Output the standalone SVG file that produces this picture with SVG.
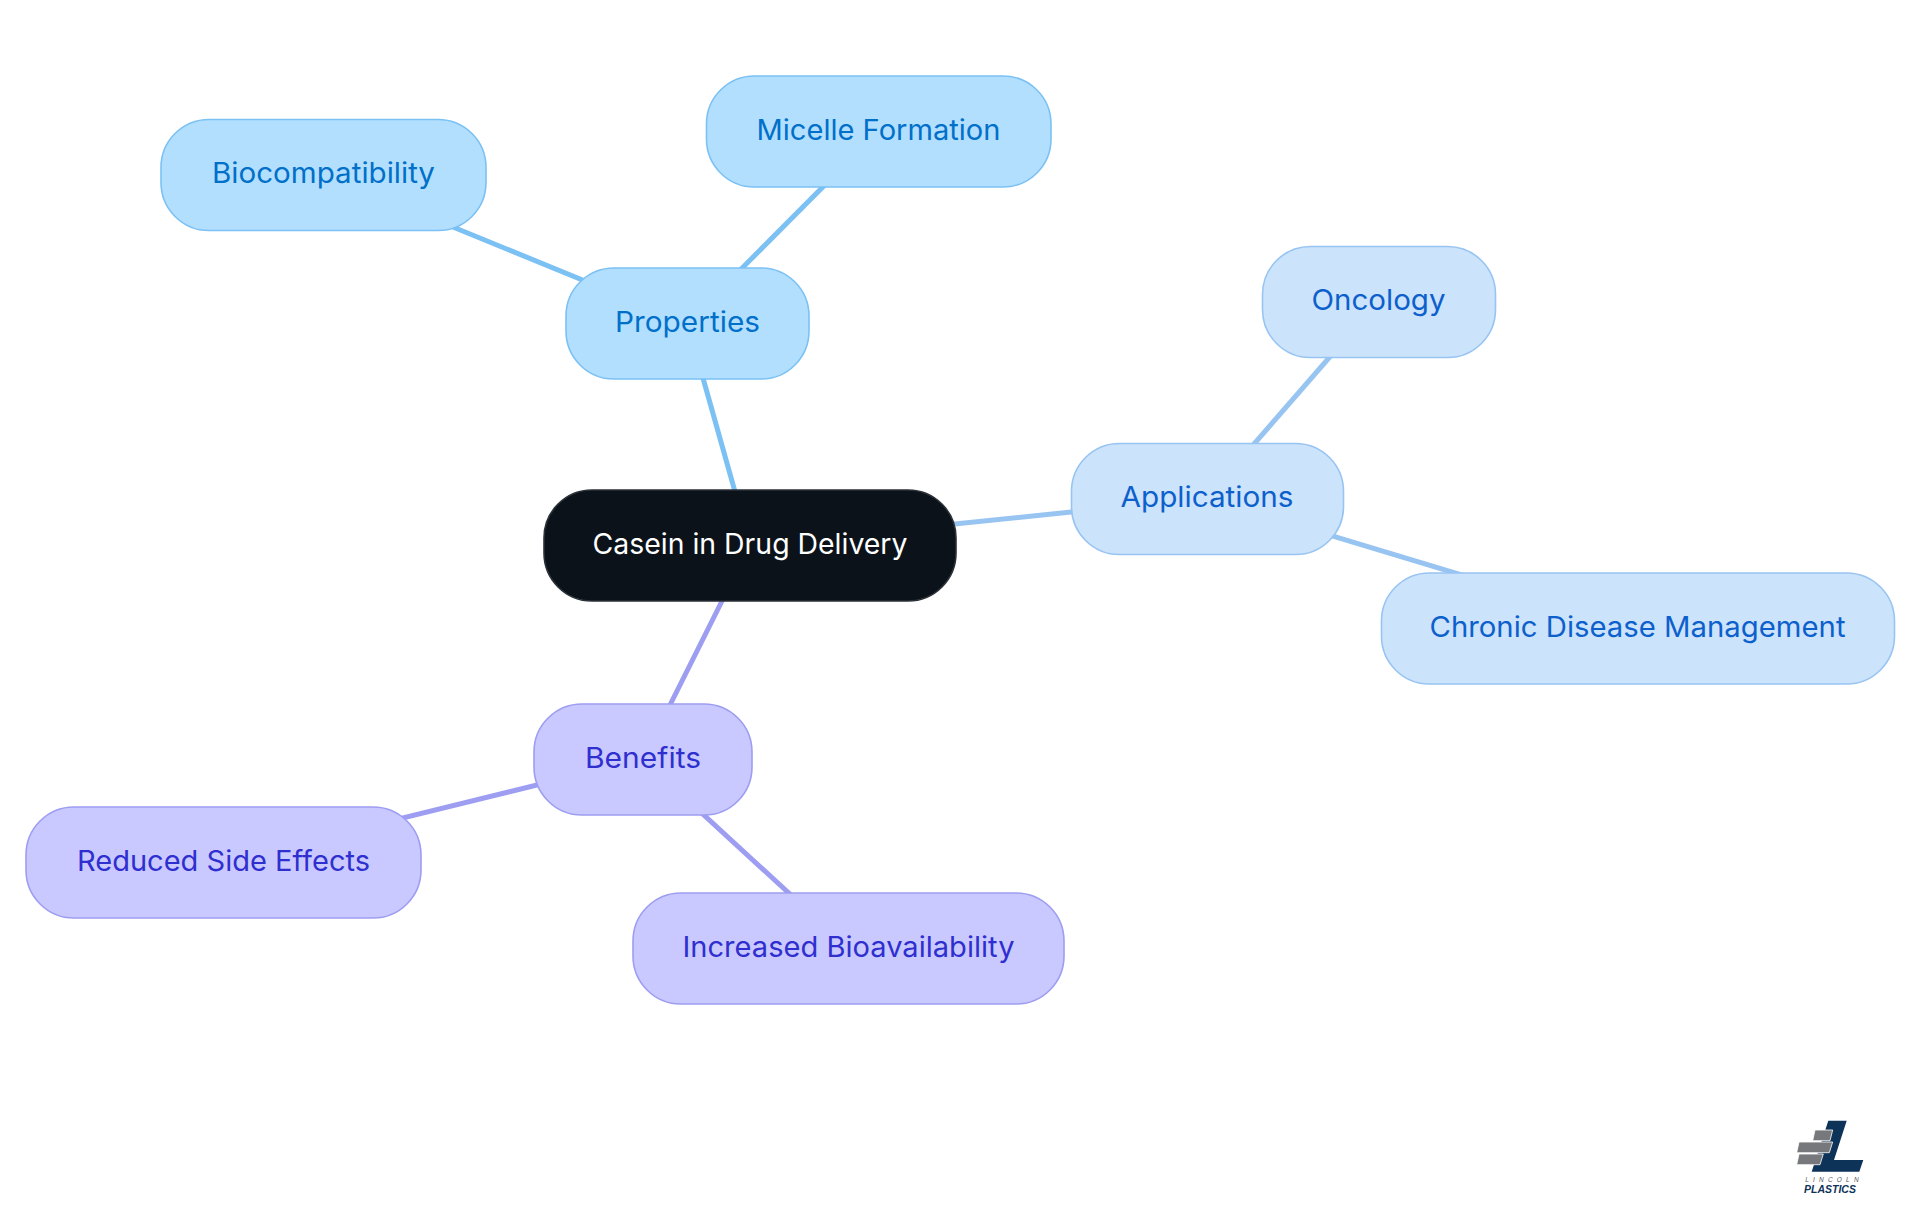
<svg xmlns="http://www.w3.org/2000/svg" width="1920" height="1215" viewBox="0 0 1920 1215">
<style>
.n rect{stroke-width:1.6}
.n text{font-family:"Inter","Noto Sans",sans-serif;font-size:28.5px;text-anchor:middle;dominant-baseline:central}
.c0 rect{fill:#0b1219;stroke:#2b3138}.c0 text{fill:#fff}
.c1 rect{fill:#b3dfff;stroke:#7bc1f3}.c1 text{fill:#0070c9}
.c2 rect{fill:#cce3fc;stroke:#98c4f2}.c2 text{fill:#0c60cc}
.c3 rect{fill:#c9c9ff;stroke:#9d9df2}.c3 text{fill:#2f2fd0}
#connectors line{stroke-width:5;fill:none}
.e1{stroke:#7bc1f3}.e2{stroke:#98c4f2}.e3{stroke:#9d9df2}
</style>
<rect width="1920" height="1215" fill="#fff"/>
<g id="connectors">
<line class="e1" x1="750" y1="545" x2="687.5" y2="323"/>
<line class="e1" x1="687.5" y1="323" x2="878.5" y2="131"/>
<line class="e1" x1="687.5" y1="323" x2="323.5" y2="174"/>
<line class="e2" x1="750" y1="545" x2="1207" y2="498"/>
<line class="e2" x1="1207" y1="498" x2="1378.5" y2="301"/>
<line class="e2" x1="1207" y1="498" x2="1637.5" y2="628"/>
<line class="e3" x1="750" y1="545" x2="643" y2="759"/>
<line class="e3" x1="643" y1="759" x2="223.5" y2="862"/>
<line class="e3" x1="643" y1="759" x2="848.5" y2="948"/>
</g>
<g id="node-root" class="n c0"><rect x="544" y="490" width="412" height="111" rx="48"/><text x="750" y="543" textLength="315" lengthAdjust="spacingAndGlyphs">Casein in Drug Delivery</text></g>
<g id="node-properties" class="n c1"><rect x="566" y="268" width="243" height="111" rx="48"/><text x="687.5" y="321" textLength="145" lengthAdjust="spacingAndGlyphs">Properties</text></g>
<g id="node-micelle" class="n c1"><rect x="706.5" y="76" width="344.5" height="111" rx="48"/><text x="878.5" y="129" textLength="244" lengthAdjust="spacingAndGlyphs">Micelle Formation</text></g>
<g id="node-biocompatibility" class="n c1"><rect x="161" y="119.5" width="325" height="111" rx="48"/><text x="323.5" y="172" textLength="223" lengthAdjust="spacingAndGlyphs">Biocompatibility</text></g>
<g id="node-applications" class="n c2"><rect x="1071.5" y="443.5" width="272" height="111" rx="48"/><text x="1207" y="496" textLength="173" lengthAdjust="spacingAndGlyphs">Applications</text></g>
<g id="node-oncology" class="n c2"><rect x="1262.5" y="246.5" width="233" height="111" rx="48"/><text x="1378.5" y="299" textLength="134" lengthAdjust="spacingAndGlyphs">Oncology</text></g>
<g id="node-chronic" class="n c2"><rect x="1381.5" y="573" width="513" height="111" rx="48"/><text x="1637.5" y="626" textLength="416" lengthAdjust="spacingAndGlyphs">Chronic Disease Management</text></g>
<g id="node-benefits" class="n c3"><rect x="534" y="704" width="218" height="111" rx="48"/><text x="643" y="757" textLength="116" lengthAdjust="spacingAndGlyphs">Benefits</text></g>
<g id="node-reduced" class="n c3"><rect x="26" y="807" width="395" height="111" rx="48"/><text x="223.5" y="860" textLength="293" lengthAdjust="spacingAndGlyphs">Reduced Side Effects</text></g>
<g id="node-increased" class="n c3"><rect x="633" y="893" width="431" height="111" rx="48"/><text x="848.5" y="946" textLength="332" lengthAdjust="spacingAndGlyphs">Increased Bioavailability</text></g>
<g id="logo">
<polygon points="1828.3,1120.7 1846.7,1120.7 1834,1160 1863.3,1160 1859.3,1171.7 1811.7,1171.7" fill="#0e3358"/>
<g fill="#77787b" stroke="#fff" stroke-width="0.8">
<polygon points="1815,1130 1832.7,1130 1830,1140.7 1812.7,1140.7"/>
<polygon points="1799,1142 1832.7,1142 1829.3,1152.7 1796.7,1152.7"/>
<polygon points="1799,1154 1823.3,1154 1820,1164.7 1796.7,1164.7"/>
</g>
<text x="1834" y="1181.5" font-family="Liberation Sans,sans-serif" font-size="6.5" font-style="italic" fill="#55585c" text-anchor="middle" letter-spacing="4.2">LINCOLN</text>
<text x="1830" y="1193" font-family="Liberation Sans,sans-serif" font-size="10.5" font-weight="700" font-style="italic" fill="#0e3358" text-anchor="middle">PLASTICS</text>
</g>
</svg>
